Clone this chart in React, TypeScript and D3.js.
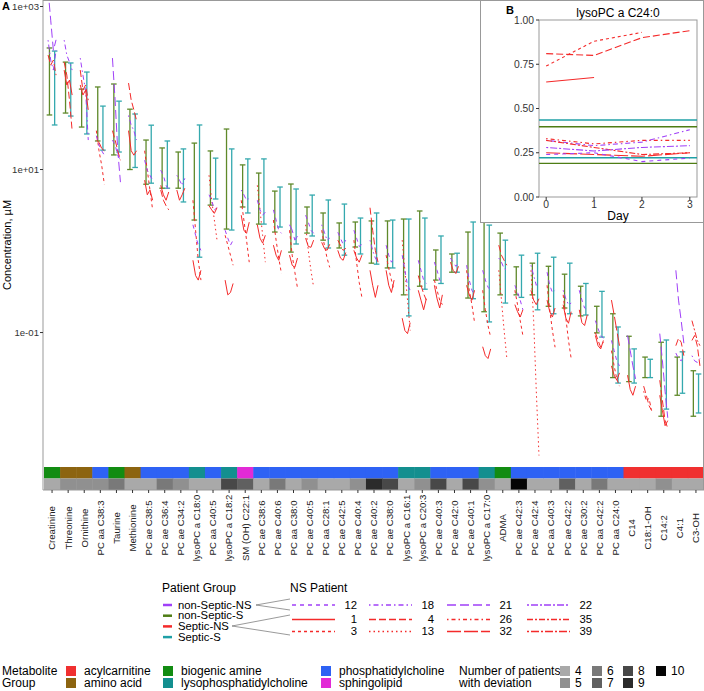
import React, { useEffect } from 'react';
import * as d3 from 'd3';

// metabolites in plotting order
const metabolites = [
  'Creatinine', 'Threonine', 'Ornithine', 'PC aa C38:3', 'Taurine', 'Methionine',
  'PC ae C38:5', 'PC ae C36:4', 'PC ae C34:2', 'lysoPC a C18:0', 'PC aa C40:5',
  'lysoPC a C18:2', 'SM (OH) C22:1', 'PC ae C38:6', 'PC ae C40:6', 'PC aa C38:0',
  'PC ae C40:5', 'PC aa C28:1', 'PC ae C42:5', 'PC ae C40:4', 'PC ae C40:2',
  'PC ae C38:0', 'lysoPC a C16:1', 'lysoPC a C20:3', 'PC ae C40:3', 'PC ae C42:0',
  'PC ae C40:1', 'lysoPC a C17:0', 'ADMA', 'PC ae C42:3', 'PC ae C42:4',
  'PC aa C40:3', 'PC ae C42:2', 'PC ae C30:2', 'PC aa C42:2', 'PC aa C24:0',
  'C14', 'C18:1-OH', 'C14:2', 'C4:1', 'C3-OH',
];

const BA = 'biogenic amine', AA = 'amino acid', PC = 'phosphatidylcholine';
const LPC = 'lysophosphatidylcholine', SM = 'sphingolipid', AC = 'acylcarnitine';
const metaboliteGroup = [
  BA, AA, AA, PC, BA, AA, PC, PC, PC, LPC, PC, LPC, SM, PC, PC, PC, PC, PC, PC, PC, PC,
  PC, LPC, LPC, PC, PC, PC, LPC, BA, PC, PC, PC, PC, PC, PC, PC, AC, AC, AC, AC, AC,
];

const deviationCount = [
  4, 5, 5, 5, 6, 4, 4, 6, 5, 4, 4, 8, 7, 4, 6, 4, 5, 4, 4, 5, 9,
  8, 4, 5, 8, 4, 8, 5, 4, 10, 4, 4, 7, 4, 6, 4, 4, 4, 5, 4, 4,
];

// [low, high] range of the S groups, µM
const nonSepticS: [number, number][] = [
  [46.7, 310], [49.3, 208], [33.2, 97], [22.4, 103], [15.1, 112], [10, 55],
  [6.6, 23], [5.9, 18.4], [5.9, 16.4], [2.4, 21.1], [3.66, 16.9], [1.86, 31.4],
  [3.47, 11.4], [2.14, 9.05], [1.71, 5.44], [0.97, 6.64], [1.66, 3.47], [1.36, 2.93],
  [1.09, 2.21], [1.12, 2.27], [0.71, 2.34], [0.62, 2.34], [0.29, 2.47], [0.37, 3.1],
  [0.44, 1.03], [0.55, 0.92], [0.265, 1.71], [0.18, 2.54], [0.29, 1.66], [0.29, 0.64],
  [0.29, 0.71], [0.21, 0.65], [0.2, 0.52], [0.16, 0.37], [0.099, 0.21], [0.028, 0.17],
  [0.025, 0.09], [0.028, 0.05], [0.0094, 0.076], [0.017, 0.05], [0.0094, 0.034],
];
const septicS: [number, number][] = [
  [35.2, 284], [45.3, 203], [27.3, 157], [17.3, 60], [16.4, 69], [10.6, 48],
  [6.8, 35], [5.9, 22.4], [4.0, 17.9], [0.84, 35.2], [4.35, 13.8], [1.81, 17.9],
  [2.93, 13.5], [2.14, 13.5], [1.97, 6.1], [1.22, 5.77], [1.53, 4.86], [1.09, 4.23],
  [0.89, 3.77], [0.92, 2.54], [0.69, 2.93], [0.62, 2.4], [0.16, 2.47], [0.34, 2.54],
  [0.4, 1.53], [0.55, 0.94], [0.26, 2.27], [0.135, 2.08], [0.23, 1.36], [0.27, 0.89],
  [0.19, 0.94], [0.17, 0.84], [0.17, 0.71], [0.164, 0.4], [0.088, 0.32], [0.024, 0.117],
  [0.024, 0.063], [0.028, 0.047], [0.0115, 0.081], [0.018, 0.058], [0.0103, 0.031],
];

// NS patient trajectories, days 0..3, per metabolite: [patient, values]
const nsTraces: [number, number[]][][] = [
  [[21, [1600, 680, 290, 390]], [4, [254, 191, 220, 144]], [18, [387, 220, 166, 292]]],
  [[4, [208, 144, 71, 30]], [18, [387, 254, 208, 166]], [1, [166, 109, 125, 82]]],
  [[18, [233, 144, 94, 23]], [4, [166, 94, 109, 71]], [1, [109, 82, 94, 54]]],
  [[3, [30, 17, 11.3, 6.6]], [12, [26, 20, 17, 15]], [1, [23, 21.6, 18.2, 17]]],
  [[21, [233, 71, 17, 7]], [4, [30, 23, 17, 13]], [12, [23, 20, 15, 13]]],
  [[4, [115, 71, 54, 40]], [18, [46, 35, 30, 23]], [1, [30, 17, 15, 17]]],
  [[3, [17, 9.8, 5.6, 3.2]], [1, [7.4, 4.9, 5.6, 4.2]], [12, [13, 9.8, 8.5, 7.4]]],
  [[12, [9.8, 8.5, 6.4, 5.6]], [1, [6.4, 4.9, 4.2, 5.3]], [4, [5.6, 4.2, 3.6, 3.2]]],
  [[18, [8.5, 7.4, 6.4, 7.8]], [1, [5.6, 4.2, 4.9, 5.9]]],
  [[3, [4.2, 1.8, 0.77, 0.44]], [1, [0.77, 0.5, 0.44, 0.58]], [12, [2.1, 1.56, 1.18, 1.02]]],
  [[13, [8.5, 4.2, 2.4, 1.36]], [12, [4.9, 4.2, 3.2, 3.4]], [1, [3.6, 3.2, 2.9, 3.4]]],
  [[3, [1.56, 1.18, 0.89, 0.67]], [1, [0.44, 0.29, 0.31, 0.4]], [12, [1.8, 1.44, 1.18, 1.36]]],
  [[3, [4.2, 2.4, 1.36, 0.73]], [1, [2.75, 1.8, 1.65, 2.26]], [18, [5.6, 4.9, 4.2, 4.45]]],
  [[13, [6.4, 3.2, 1.56, 0.73]], [1, [2.1, 1.44, 1.25, 1.56]], [12, [4.2, 3.2, 2.75, 3.0]]],
  [[3, [2.4, 1.36, 0.82, 0.53]], [1, [1.18, 0.89, 0.77, 1.02]], [12, [3.2, 2.4, 1.8, 1.65]]],
  [[3, [1.8, 0.89, 0.55, 0.35]], [1, [0.89, 0.67, 0.63, 0.82]], [21, [2.1, 1.8, 1.36, 1.52]]],
  [[13, [2.1, 1.02, 0.58, 0.36]], [1, [1.44, 1.14, 1.11, 1.36]], [12, [2.75, 2.26, 1.8, 1.65]]],
  [[3, [1.8, 1.18, 0.82, 0.63]], [18, [2.1, 1.7, 1.36, 1.44]], [1, [1.28, 1.08, 1.02, 1.21]]],
  [[1, [1.02, 0.82, 0.77, 0.96]], [12, [1.7, 1.44, 1.21, 1.36]], [4, [1.36, 1.18, 1.02, 1.08]]],
  [[3, [1.36, 0.73, 0.41, 0.27]], [12, [1.8, 1.44, 1.14, 1.21]], [1, [1.02, 0.82, 0.73, 0.89]]],
  [[4, [3.4, 1.8, 1.02, 0.73]], [1, [0.58, 0.38, 0.27, 0.38]], [18, [1.36, 1.02, 0.82, 0.73]]],
  [[1, [0.58, 0.38, 0.31, 0.44]], [12, [1.18, 0.89, 0.73, 0.82]], [3, [0.89, 0.61, 0.44, 0.33]]],
  [[13, [1.36, 0.58, 0.25, 0.106]], [1, [0.15, 0.106, 0.097, 0.132]], [12, [0.89, 0.58, 0.38, 0.33]]],
  [[1, [0.33, 0.25, 0.19, 0.26]], [12, [0.77, 0.58, 0.44, 0.4]], [4, [0.5, 0.38, 0.3, 0.25]]],
  [[12, [0.73, 0.58, 0.44, 0.4]], [1, [0.38, 0.26, 0.2, 0.29]], [3, [0.44, 0.33, 0.25, 0.22]]],
  [[1, [0.73, 0.58, 0.53, 0.65]], [12, [0.82, 0.73, 0.65, 0.71]]],
  [[3, [0.58, 0.33, 0.22, 0.132]], [12, [0.67, 0.44, 0.33, 0.29]], [1, [0.38, 0.29, 0.25, 0.33]]],
  [[3, [0.33, 0.19, 0.122, 0.087]], [1, [0.067, 0.052, 0.048, 0.063]], [12, [0.58, 0.44, 0.36, 0.33]]],
  [[4, [1.18, 0.89, 0.77, 0.67]], [13, [0.58, 0.25, 0.106, 0.049]], [18, [0.82, 0.73, 0.61, 0.58]]],
  [[3, [0.33, 0.22, 0.14, 0.092]], [12, [0.38, 0.31, 0.25, 0.19]], [1, [0.22, 0.18, 0.155, 0.19]]],
  [[13, [0.58, 0.14, 0.019, 0.0031]], [1, [0.33, 0.25, 0.22, 0.26]], [18, [0.67, 0.5, 0.38, 0.41]]],
  [[3, [0.38, 0.19, 0.106, 0.066]], [12, [0.55, 0.38, 0.31, 0.33]], [1, [0.25, 0.18, 0.155, 0.2]]],
  [[3, [0.29, 0.15, 0.08, 0.048]], [1, [0.22, 0.15, 0.13, 0.18]], [18, [0.33, 0.26, 0.22, 0.23]]],
  [[1, [0.19, 0.132, 0.122, 0.165]], [12, [0.33, 0.25, 0.2, 0.19]]],
  [[12, [0.14, 0.112, 0.092, 0.085]], [4, [0.1, 0.08, 0.066, 0.076]], [1, [0.092, 0.069, 0.063, 0.08]]],
  [[32, [0.25, 0.165, 0.106, 0.069]], [12, [0.08, 0.06, 0.045, 0.039]], [1, [0.039, 0.03, 0.026, 0.032]], [3, [0.06, 0.039, 0.027, 0.022]]],
  [[1, [0.03, 0.02, 0.017, 0.022]], [21, [0.092, 0.06, 0.039, 0.027]]],
  [[4, [0.022, 0.017, 0.0127, 0.011]], [26, [0.019, 0.0146, 0.0155, 0.011]]],
  [[21, [0.097, 0.045, 0.019, 0.009]], [4, [0.026, 0.0146, 0.0083, 0.0067]], [1, [0.017, 0.011, 0.0072, 0.0083]]],
  [[21, [0.58, 0.25, 0.14, 0.074]], [4, [0.069, 0.085, 0.076, 0.052]], [12, [0.056, 0.048, 0.045, 0.05]]],
  [[4, [0.08, 0.092, 0.069, 0.039]], [35, [0.14, 0.106, 0.08, 0.069]], [18, [0.052, 0.045, 0.043, 0.048]]],
];

const nonSepticNSPatients = [12, 18, 21, 22];
const septicNSPatients = [1, 4, 26, 35, 3, 13, 32, 39];

// inset B: lysoPC a C24:0 over days
const insetDays = [0, 1, 2, 3];
const insetTraces: [number, number[]][] = [
  [4, [0.81, 0.8, 0.9, 0.94]],
  [3, [0.74, 0.88, 0.93]],
  [1, [0.65, 0.675]],
  [26, [0.33, 0.3, 0.32, 0.32]],
  [18, [0.32, 0.29, 0.31, 0.38]],
  [35, [0.32, 0.28, 0.24, 0.25]],
  [22, [0.28, 0.26, 0.28, 0.29]],
  [32, [0.25, 0.24, 0.23, 0.25]],
  [12, [0.24, 0.25, 0.2, 0.22]],
];
const insetNonSepticS = [0.19, 0.397];
const insetSepticS = [0.222, 0.435];
const insetTicks = [0, 0.25, 0.5, 0.75, 1];

const groupColor: Record<string, string> = {
  [AC]: '#F03030', [AA]: '#8C6410', [BA]: '#128C12',
  [LPC]: '#138F8F', [PC]: '#2E62F4', [SM]: '#E22AD6',
};
const countColor: Record<number, string> = {
  4: '#A9A9A9', 5: '#909090', 6: '#797979', 7: '#606060', 8: '#484848', 9: '#2B2B2B', 10: '#050505',
};
const PURPLE = '#A040F8', RED = '#F42A2A', GREEN = '#4E7D14', TEAL = '#1FA0A6';

const dash: Record<number, string> = {
  12: '4,4', 18: '1.5,3,5,3', 21: '9,4', 22: '2,2,7,2',
  1: '', 4: '7,3', 26: '1.5,3,4,3', 35: '6,2,2,2',
  3: '3,3', 13: '1.5,3', 32: '14,3', 39: '2,2,8,2',
};
const patientColor = (p: number) => (nonSepticNSPatients.includes(p) ? PURPLE : RED);

const FONT = '"Liberation Sans", Arial, sans-serif';

export default function App() {
  useEffect(() => {
    document.body.style.margin = '0';
  }, []);

  const W = 704, H = 691;
  const top = 0, bottom = 490, left = 43;
  const x = d3.scaleBand<string>().domain(metabolites).range([44, 704]);
  const y = d3.scaleLog().domain([0.00117, 1202]).range([bottom, top]);
  const dayX = d3.scaleLinear().domain([0, 3]).range([-4, 4]);
  const cx = (m: string) => (x(m) as number) + x.bandwidth() / 2;

  const ix = d3.scaleLinear().domain([-0.15, 3.15]).range([539, 697]);
  const iy = d3.scaleLinear().domain([0, 1]).range([197, 20]);

  const errBar = (m: string, r: [number, number], off: number, col: string, key: string) => {
    const xc = cx(m) + off;
    return (
      <g key={key} stroke={col} strokeWidth={1.3} opacity={0.9}>
        <line x1={xc} x2={xc} y1={y(r[0])} y2={y(r[1])} />
        <line x1={xc - 2.8} x2={xc + 2.8} y1={y(r[0])} y2={y(r[0])} />
        <line x1={xc - 2.8} x2={xc + 2.8} y1={y(r[1])} y2={y(r[1])} />
      </g>
    );
  };

  const yTicks = [1e3, 1e1, 1e-1];
  const legendCols = [[AC, AA], [BA, LPC], [PC, SM]];
  const legendColX = [66, 163, 321];
  const countCols = [[4, 5], [6, 7], [8, 9], [10]];
  const countColX = [560, 592, 623, 656];
  const nsLegendX = [292, 369, 447, 527];
  const nsRows = [nonSepticNSPatients, septicNSPatients.slice(0, 4), septicNSPatients.slice(4)];
  const nsRowY = [605, 619.5, 631.5];

  return (
    <svg width={W} height={H} style={{ position: 'absolute', left: 0, top: 0, fontFamily: FONT }}>
      <defs>
        <clipPath id="mainclip">
          <rect x={left} y={top} width={W - left} height={bottom - top} />
        </clipPath>
        <clipPath id="insetclip">
          <rect x={539} y={20} width={158} height={177} />
        </clipPath>
      </defs>
      <rect x={0} y={0} width={W} height={H} fill="#fff" />

      {/* panel A */}
      <g clipPath="url(#mainclip)">
        {metabolites.map((m, i) => errBar(m, nonSepticS[i], -2.6, GREEN, 'g' + i))}
        {metabolites.map((m, i) => errBar(m, septicS[i], 2.6, TEAL, 't' + i))}
        {metabolites.map((m, i) =>
          nsTraces[i].map(([p, vals], j) => {
            const line = d3.line<number>().x((_, k) => cx(m) + dayX(k)).y((v) => y(v));
            return (
              <path key={m + j} d={line(vals) || ''} fill="none" stroke={patientColor(p)}
                strokeWidth={1} strokeDasharray={dash[p]} />
            );
          })
        )}
        {metabolites.map((m, i) => (
          <rect key={'s' + i} x={x(m)} y={467} width={x.bandwidth() + 0.5} height={11.5}
            fill={groupColor[metaboliteGroup[i]]} />
        ))}
        {metabolites.map((m, i) => (
          <rect key={'c' + i} x={x(m)} y={478.5} width={x.bandwidth() + 0.5} height={11.5}
            fill={countColor[deviationCount[i]]} />
        ))}
      </g>
      <line x1={left} x2={left} y1={0} y2={bottom} stroke="#999" strokeWidth={1} />
      <line x1={left} x2={W} y1={0.5} y2={0.5} stroke="#999" strokeWidth={1} />
      <line x1={left} x2={W} y1={bottom} y2={bottom} stroke="#999" strokeWidth={1} />
      <line x1={W - 0.5} x2={W - 0.5} y1={0} y2={bottom} stroke="#999" strokeWidth={1} />
      {yTicks.map((t) => (
        <g key={t}>
          <line x1={left - 3} x2={left} y1={y(t)} y2={y(t)} stroke="#333" />
          <text x={left - 4} y={y(t)} dy="0.35em" textAnchor="end" fontSize={9.6} fill="#333">
            {d3.format('.0e')(t).replace('e+', 'e+0').replace('e-', 'e-0')}
          </text>
        </g>
      ))}
      <text x={2} y={10} fontSize={11} fontWeight="bold">A</text>
      <text transform="translate(11,245) rotate(-90)" textAnchor="middle" fontSize={11}>
        Concentration, µM
      </text>
      {metabolites.map((m) => (
        <g key={'l' + m}>
          <line x1={cx(m)} x2={cx(m)} y1={bottom} y2={bottom + 3} stroke="#333" />
          <text transform={`translate(${cx(m)},528) rotate(-90)`} textAnchor="middle" dy="0.35em"
            fontSize={9.6} fill="#222">{m}</text>
        </g>
      ))}

      {/* panel B inset */}
      <rect x={480.5} y={0.5} width={223} height={222} fill="#fff" stroke="#999" />
      <text x={506} y={14} fontSize={11} fontWeight="bold">B</text>
      <text x={618} y={17} fontSize={12} textAnchor="middle">lysoPC a C24:0</text>
      <rect x={539} y={20} width={158} height={177} fill="#fff" stroke="#999" />
      <g clipPath="url(#insetclip)">
        {insetNonSepticS.map((v, i) => (
          <line key={'ig' + i} x1={539} x2={697} y1={iy(v)} y2={iy(v)} stroke={GREEN} strokeWidth={1.4} />
        ))}
        {insetSepticS.map((v, i) => (
          <line key={'it' + i} x1={539} x2={697} y1={iy(v)} y2={iy(v)} stroke={TEAL} strokeWidth={1.4} />
        ))}
        {insetTraces.map(([p, vals], i) => {
          const line = d3.line<number>().x((_, k) => ix(insetDays[k])).y((v) => iy(v));
          return (
            <path key={'ip' + i} d={line(vals) || ''} fill="none" stroke={patientColor(p)}
              strokeWidth={1.1} strokeDasharray={dash[p]} />
          );
        })}
      </g>
      {insetTicks.map((t) => (
        <g key={'iy' + t}>
          <line x1={536} x2={539} y1={iy(t)} y2={iy(t)} stroke="#333" />
          <text x={534} y={iy(t)} dy="0.35em" textAnchor="end" fontSize={10.3} fill="#333">
            {d3.format('.2f')(t)}
          </text>
        </g>
      ))}
      {insetDays.map((d) => (
        <g key={'ix' + d}>
          <line x1={ix(d)} x2={ix(d)} y1={197} y2={200} stroke="#333" />
          <text x={ix(d)} y={208} textAnchor="middle" fontSize={10.3} fill="#333">{d}</text>
        </g>
      ))}
      <text x={618} y={220} textAnchor="middle" fontSize={12}>Day</text>

      {/* patient group legend */}
      <text x={162} y={592} fontSize={12}>Patient Group</text>
      {[['non-Septic-NS', PURPLE], ['non-Septic-S', GREEN], ['Septic-NS', RED], ['Septic-S', TEAL]].map(
        ([label, col], i) => (
          <g key={label}>
            <line x1={163} x2={172} y1={605 + i * 10.7} y2={605 + i * 10.7} stroke={col} strokeWidth={2.5} />
            <text x={178} y={605 + i * 10.7} dy="0.33em" fontSize={11.3}>{label}</text>
          </g>
        )
      )}
      <text x={290} y={592} fontSize={12}>NS Patient</text>
      <g stroke="#555" strokeWidth={0.6}>
        <line x1={256} y1={605} x2={290} y2={599} />
        <line x1={256} y1={605} x2={290} y2={610} />
        <line x1={232} y1={626} x2={290} y2={615} />
        <line x1={232} y1={626} x2={290} y2={635} />
      </g>
      {nsRows.map((row, r) =>
        row.map((p, c) => (
          <g key={'nl' + p}>
            <line x1={nsLegendX[c]} x2={nsLegendX[c] + 43} y1={nsRowY[r]} y2={nsRowY[r]}
              stroke={patientColor(p)} strokeWidth={1.6} strokeDasharray={dash[p]} />
            <text x={nsLegendX[c] + 65} y={nsRowY[r]} dy="0.35em" textAnchor="end" fontSize={11.3}>{p}</text>
          </g>
        ))
      )}

      {/* metabolite group legend */}
      <text x={2} y={671} dy="0.35em" fontSize={12}>Metabolite</text>
      <text x={2} y={683} dy="0.35em" fontSize={12}>Group</text>
      {legendCols.map((col, c) =>
        col.map((g, r) => (
          <g key={g}>
            <rect x={legendColX[c]} y={666 + r * 12} width={10} height={10} fill={groupColor[g]} />
            <text x={legendColX[c] + 18} y={671 + r * 12} dy="0.35em" fontSize={12}>{g}</text>
          </g>
        ))
      )}
      <text x={459} y={671} dy="0.35em" fontSize={12}>Number of patients</text>
      <text x={459} y={683} dy="0.35em" fontSize={12}>with deviation</text>
      {countCols.map((col, c) =>
        col.map((n, r) => (
          <g key={'n' + n}>
            <rect x={countColX[c]} y={666 + r * 12} width={10} height={10} fill={countColor[n]} />
            <text x={countColX[c] + 15} y={671 + r * 12} dy="0.35em" fontSize={12}>{n}</text>
          </g>
        ))
      )}
    </svg>
  );
}
